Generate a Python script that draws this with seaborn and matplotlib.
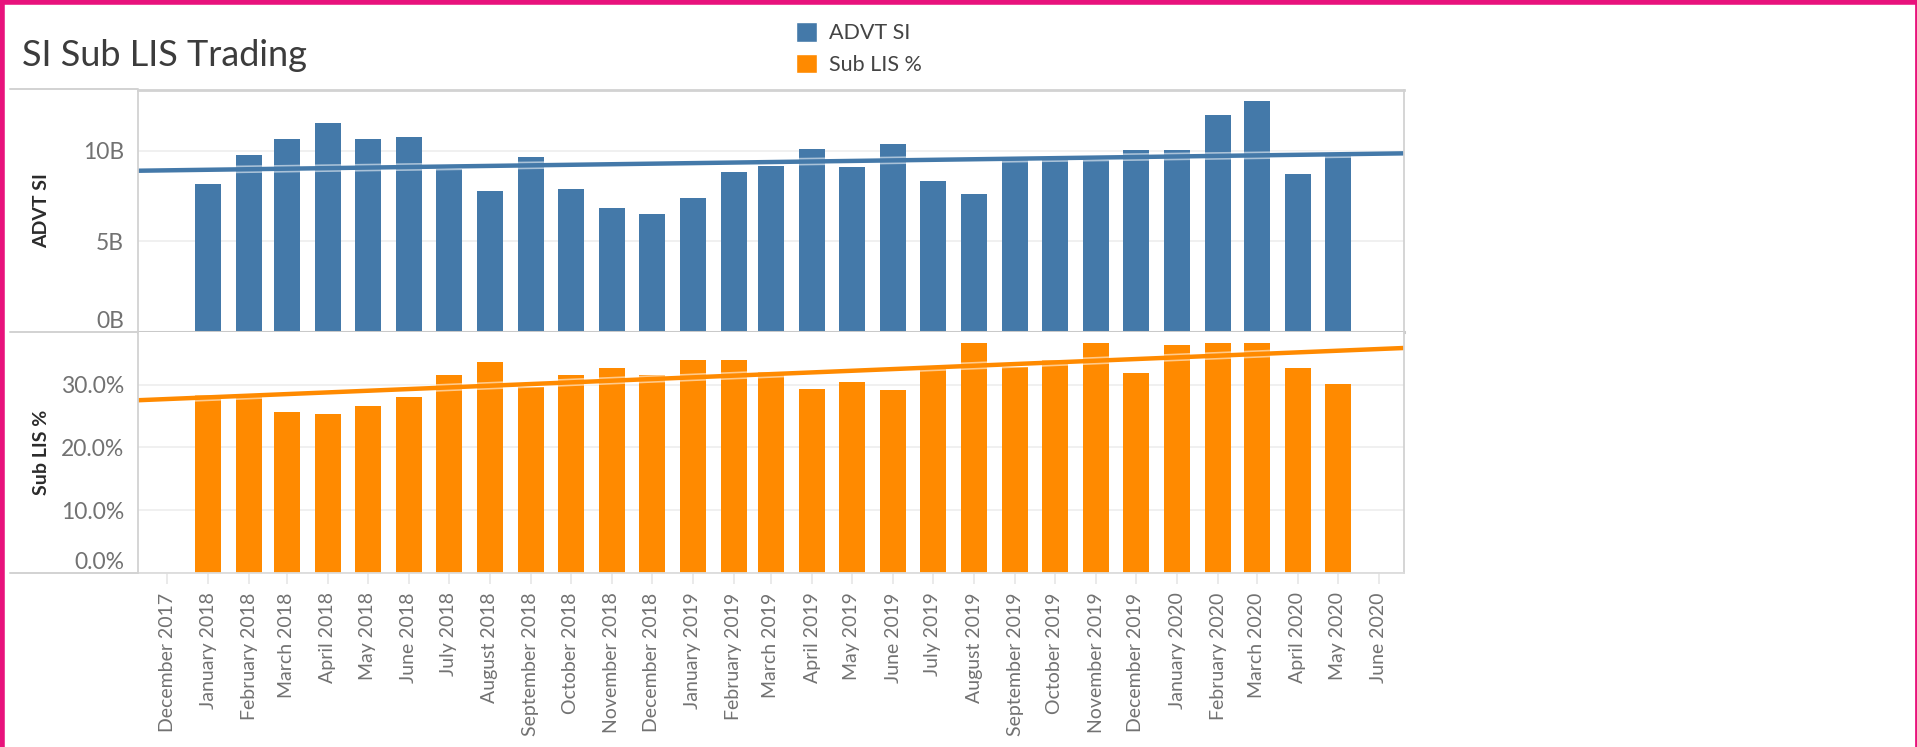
import numpy as np
import pandas as pd
import matplotlib
matplotlib.use("Agg")
import matplotlib.pyplot as plt
import matplotlib.dates as mdates
import matplotlib.patheffects as pe
from matplotlib.lines import Line2D
from matplotlib.patches import Patch
import seaborn as sns

# ---------------- data ----------------
months = [
    "January 2018", "February 2018", "March 2018", "April 2018", "May 2018", "June 2018",
    "July 2018", "August 2018", "September 2018", "October 2018", "November 2018", "December 2018",
    "January 2019", "February 2019", "March 2019", "April 2019", "May 2019", "June 2019",
    "July 2019", "August 2019", "September 2019", "October 2019", "November 2019", "December 2019",
    "January 2020", "February 2020", "March 2020", "April 2020", "May 2020",
]
advt_si_billions = [
    8.18, 9.78, 10.66, 11.54, 10.66, 10.77,
    9.01, 7.79, 9.67, 7.90, 6.86, 6.53,
    7.41, 8.84, 9.17, 10.11, 9.12, 10.39,
    8.35, 7.63, 9.60, 9.57, 9.50, 10.05,
    10.05, 11.98, 12.76, 8.73, 9.73,
]
sub_lis_share = [
    0.284, 0.285, 0.256, 0.253, 0.266, 0.280,
    0.316, 0.336, 0.296, 0.316, 0.327, 0.316,
    0.340, 0.340, 0.320, 0.293, 0.304, 0.291,
    0.328, 0.367, 0.328, 0.340, 0.367, 0.318,
    0.364, 0.367, 0.367, 0.327, 0.301,
]
x_tick_labels = [
    "December 2017", "January 2018", "February 2018", "March 2018", "April 2018", "May 2018",
    "June 2018", "July 2018", "August 2018", "September 2018", "October 2018", "November 2018",
    "December 2018", "January 2019", "February 2019", "March 2019", "April 2019", "May 2019",
    "June 2019", "July 2019", "August 2019", "September 2019", "October 2019", "November 2019",
    "December 2019", "January 2020", "February 2020", "March 2020", "April 2020", "May 2020",
    "June 2020",
]
top_ticks = [0, 5, 10]
top_tick_labels = ["0B", "5B", "10B"]
bottom_ticks = [0.0, 0.1, 0.2, 0.3]
bottom_tick_labels = ["0.0%", "10.0%", "20.0%", "30.0%"]

title = "SI Sub LIS Trading"
series_names = ["ADVT SI", "Sub LIS %"]

# ---------------- style ----------------
BLUE = "#4479a9"
ORANGE = "#ff8a00"
GRID = "#efefef"
BORDER = "#d2d2d2"
TICKTXT = "#727272"
PINK = "#e8127c"

sns.set_theme(style="white")
plt.rcParams["font.family"] = ["Lato", "DejaVu Sans"]

month_num = mdates.date2num(pd.to_datetime(months, format="%B %Y"))
df = pd.DataFrame({"month": month_num, "advt": advt_si_billions, "sub": sub_lis_share})
tick_num = mdates.date2num(pd.to_datetime(x_tick_labels, format="%B %Y"))

W, H = 1917, 747
fig = plt.figure(figsize=(W / 100, H / 100), dpi=100)
fig.patch.set_facecolor("white")

L, R = 138 / W, 1404 / W
ax1 = fig.add_axes([L, 1 - 332 / H, R - L, (332 - 90) / H])
ax2 = fig.add_axes([L, 1 - 573 / H, R - L, (573 - 332) / H])

xlim = (mdates.date2num(pd.Timestamp("2017-11-09")), mdates.date2num(pd.Timestamp("2020-06-20")))

halo = [pe.Stroke(linewidth=5.5, foreground="white", alpha=0.55), pe.Normal()]

for ax, col, color, ylim in [
    (ax1, "advt", BLUE, (0, 13.37)),
    (ax2, "sub", ORANGE, (0, 0.384)),
]:
    sns.barplot(data=df, x="month", y=col, native_scale=True, width=0.7,
                color=color, saturation=1, errorbar=None, linewidth=0, ax=ax)
    ax.set_xlim(*xlim)
    sns.regplot(data=df, x="month", y=col, scatter=False, ci=None, truncate=False,
                color=color, line_kws=dict(lw=3.2, path_effects=halo, solid_capstyle="butt"), ax=ax)
    ax.set_xlim(*xlim)
    ax.set_ylim(*ylim)
    ax.yaxis.grid(True, color=GRID, lw=1.3)
    ax.xaxis.grid(False)
    ax.set_axisbelow(True)
    ax.set_xlabel("")
    for s in ["left", "right", "top", "bottom"]:
        ax.spines[s].set_color(BORDER)
        ax.spines[s].set_linewidth(1.3)

# top axis
ax1.set_yticks(top_ticks, top_tick_labels)
ax1.set_xticks(tick_num)
ax1.tick_params(axis="x", bottom=False, labelbottom=False)
ax1.spines["bottom"].set_linewidth(2.2)
ax1.spines["bottom"].set_color("#c9c9c9")
ax1.spines["top"].set_linewidth(2.0)

# bottom axis
ax2.set_yticks(bottom_ticks, bottom_tick_labels)
ax2.spines["top"].set_visible(False)
ax2.spines["bottom"].set_color("#dcdcdc")
ax2.spines["bottom"].set_linestyle((0, (2, 1)))
ax2.set_xticks(tick_num, x_tick_labels, rotation=90)
ax2.tick_params(axis="x", bottom=True, length=8, width=1.2, color="#e6e6e6",
                labelsize=14, labelcolor=TICKTXT, pad=6)

for ax in (ax1, ax2):
    ax.tick_params(axis="y", left=False, labelsize=16.5, labelcolor=TICKTXT, pad=4)
    # the zero label sits just above the baseline, as in the original
    ax.get_yticklabels()[0].set_va("bottom")

ax1.set_ylabel(series_names[0], fontsize=14, fontweight="bold", color="#2b2b2b")
ax2.set_ylabel(series_names[1], fontsize=14, fontweight="bold", color="#2b2b2b")
ax1.yaxis.set_label_coords((50 - 138) / (1404 - 138), 0.5)
ax2.yaxis.set_label_coords((50 - 138) / (1404 - 138), 0.5)

# title
fig.text(22 / W, 1 - 56 / H, title, fontsize=26, color="#3c3c3c", va="center", ha="left")

# legend
handles = [Patch(facecolor=BLUE, label=series_names[0]), Patch(facecolor=ORANGE, label=series_names[1])]
fig.legend(handles=handles, loc="upper left", bbox_to_anchor=(792 / W, 1 - 18 / H), frameon=False,
           fontsize=15.5, handlelength=0.95, handleheight=1.0, labelspacing=0.5, handletextpad=0.55,
           labelcolor="#444444", borderaxespad=0, borderpad=0.2)

# header / divider lines extending left of the plot area
for y in (89, 332, 573):
    fig.add_artist(Line2D([10 / W, L], [1 - y / H, 1 - y / H], color=BORDER, lw=1.4,
                          transform=fig.transFigure))

# pink outer frame
fig.add_artist(Line2D([0, 1], [1 - 2 / H, 1 - 2 / H], color=PINK, lw=4, transform=fig.transFigure))
fig.add_artist(Line2D([2 / W, 2 / W], [0, 1], color=PINK, lw=4, transform=fig.transFigure))
fig.add_artist(Line2D([1 - 1 / W, 1 - 1 / W], [0, 1], color=PINK, lw=2, transform=fig.transFigure))

fig.savefig("out.png", dpi=100, facecolor="white")
